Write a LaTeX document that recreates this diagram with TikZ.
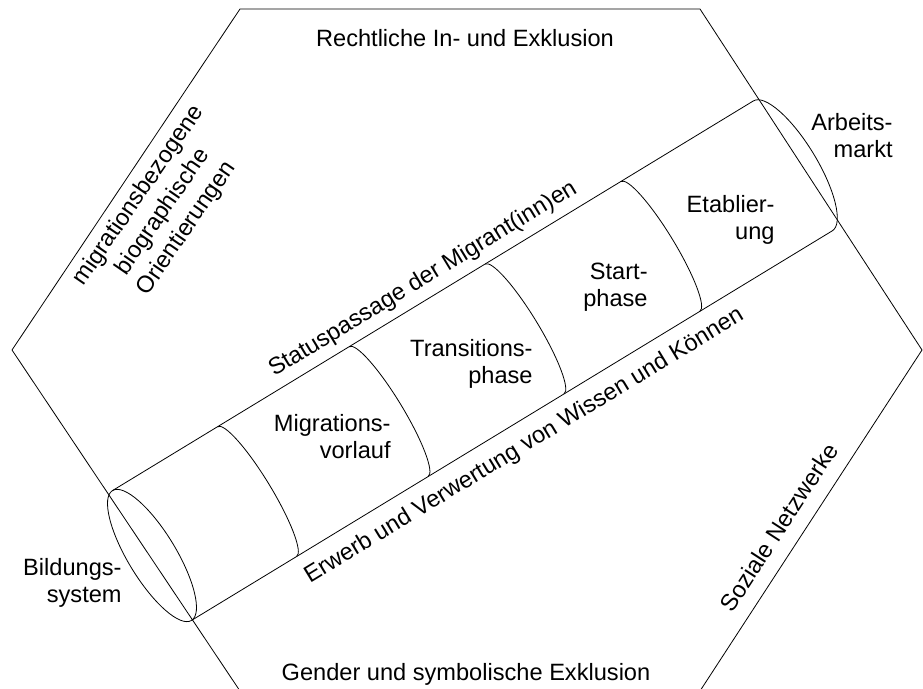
\documentclass[tikz,border=0pt]{standalone}
\usepackage{fontspec}
\setmainfont{Liberation Sans}
\begin{document}
\begin{tikzpicture}[x=1pt, y=1pt, thick, every node/.style={inner sep=0pt, font=\fontsize{23.6}{27}\selectfont}]
	\useasboundingbox (0,0) rectangle (923,688);
	\clip (0,0) rectangle (923,688);

	% 1. Sechseck (Rahmen der Einflussfaktoren)
	\draw (240,679) -- (700,679) -- (922,338) -- (700,-3) -- (240,-3) -- (12,338) -- cycle;

	% 2. Zylinder: Statuspassage (lokal entlang der Achse)
	\begin{scope}[shift={(152,132.5)}, rotate=31.3]
		\draw (0,76) -- (750,76);
		\draw (0,-76) -- (750,-76);
		\draw (0,0) ellipse[x radius=24, y radius=76];
		\draw (750,76) arc[start angle=90, end angle=-90, x radius=24, y radius=76];
		% Phasengrenzen
		\foreach \u in {123,277,436,595}
			\draw (\u,76) arc[start angle=90, end angle=-90, x radius=14, y radius=76];

		\node[anchor=base, rotate=31.3] (status) at (375,89) {Statuspassage der Migrant(inn)en};
		\node[anchor=base, rotate=31.3] (wissen) at (375,-106) {Erwerb und Verwertung von Wissen und Können};
	\end{scope}

	% 3. Phasen im Zylinder
	\node[anchor=north east, align=right] (vorlauf) at (391,274) {Migrations-\\vorlauf};
	\node[anchor=north east, align=right] (transition) at (533,349) {Transitions-\\phase};
	\node[anchor=north east, align=right] (start) at (648,425) {Start-\\phase};
	\node[anchor=north east, align=right] (etablierung) at (775,493) {Etablier-\\ung};

	% 4. Enden des Zylinders
	\node[anchor=north east, align=right] (bildung) at (122,130) {Bildungs-\\system};
	\node[anchor=north east, align=right] (arbeit) at (893,575) {Arbeits-\\markt};

	% 5. Seiten des Sechsecks
	\node[anchor=base] (recht) at (465,641) {Rechtliche In- und Exklusion};
	\node[anchor=base] (gender) at (466,8) {Gender und symbolische Exklusion};
	\node[align=center, rotate=55.5, font=\fontsize{23.6}{29}\selectfont] (orient) at (163,476) {migrationsbezogene\\biographische\\Orientierungen};
	\node[anchor=base, rotate=57] (netz) at (786,156) {Soziale Netzwerke};
\end{tikzpicture}
\end{document}
